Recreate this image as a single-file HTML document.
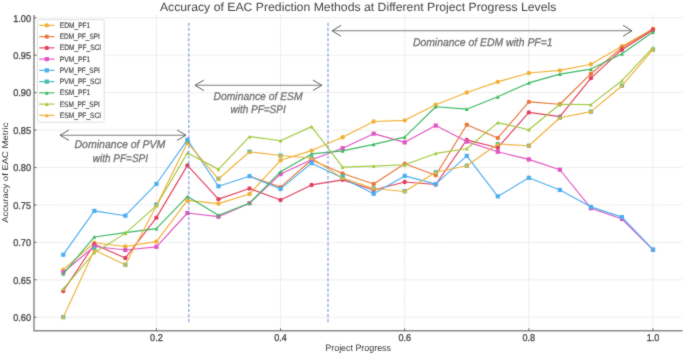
<!DOCTYPE html><html><head><meta charset="utf-8"><style>html,body{margin:0;padding:0;background:#fff;}svg{display:block;}</style></head><body>
<svg style="will-change:transform" width="685" height="357" viewBox="0 0 685 357" text-rendering="geometricPrecision">
<defs><filter id="bl" x="0" y="0" width="685" height="357" filterUnits="userSpaceOnUse" color-interpolation-filters="sRGB"><feConvolveMatrix order="3" kernelMatrix="1 2 1 2 20 2 1 2 1" divisor="32" edgeMode="duplicate"/></filter></defs><g filter="url(#bl)">
<rect width="685" height="357" fill="#fff"/>
<g stroke="#d6d6d6" stroke-width="0.9" stroke-dasharray="1,1.1"><line x1="156.40" y1="15.0" x2="156.40" y2="330.8"/><line x1="280.55" y1="15.0" x2="280.55" y2="330.8"/><line x1="404.70" y1="15.0" x2="404.70" y2="330.8"/><line x1="528.85" y1="15.0" x2="528.85" y2="330.8"/><line x1="653.00" y1="15.0" x2="653.00" y2="330.8"/><line x1="34.0" y1="317.20" x2="682.7" y2="317.20"/><line x1="34.0" y1="279.77" x2="682.7" y2="279.77"/><line x1="34.0" y1="242.35" x2="682.7" y2="242.35"/><line x1="34.0" y1="204.93" x2="682.7" y2="204.93"/><line x1="34.0" y1="167.50" x2="682.7" y2="167.50"/><line x1="34.0" y1="130.08" x2="682.7" y2="130.08"/><line x1="34.0" y1="92.65" x2="682.7" y2="92.65"/><line x1="34.0" y1="55.23" x2="682.7" y2="55.23"/><line x1="34.0" y1="17.80" x2="682.7" y2="17.80"/></g>
<polyline points="63.29,269.67 94.33,242.72 125.36,246.47 156.40,241.60 187.44,200.43 218.48,203.65 249.51,194.00 280.55,160.31 311.59,150.58 342.62,137.19 373.66,121.54 404.70,120.34 435.74,104.78 466.78,92.43 497.81,81.87 528.85,73.04 559.89,70.42 590.93,64.28 621.96,46.24 653.00,29.03" fill="none" stroke="#f2b134" stroke-width="1.15" stroke-linejoin="round"/>
<circle cx="63.29" cy="269.67" r="2.2" fill="#f2b134"/><circle cx="94.33" cy="242.72" r="2.2" fill="#f2b134"/><circle cx="125.36" cy="246.47" r="2.2" fill="#f2b134"/><circle cx="156.40" cy="241.60" r="2.2" fill="#f2b134"/><circle cx="187.44" cy="200.43" r="2.2" fill="#f2b134"/><circle cx="218.48" cy="203.65" r="2.2" fill="#f2b134"/><circle cx="249.51" cy="194.00" r="2.2" fill="#f2b134"/><circle cx="280.55" cy="160.31" r="2.2" fill="#f2b134"/><circle cx="311.59" cy="150.58" r="2.2" fill="#f2b134"/><circle cx="342.62" cy="137.19" r="2.2" fill="#f2b134"/><circle cx="373.66" cy="121.54" r="2.2" fill="#f2b134"/><circle cx="404.70" cy="120.34" r="2.2" fill="#f2b134"/><circle cx="435.74" cy="104.78" r="2.2" fill="#f2b134"/><circle cx="466.78" cy="92.43" r="2.2" fill="#f2b134"/><circle cx="497.81" cy="81.87" r="2.2" fill="#f2b134"/><circle cx="528.85" cy="73.04" r="2.2" fill="#f2b134"/><circle cx="559.89" cy="70.42" r="2.2" fill="#f2b134"/><circle cx="590.93" cy="64.28" r="2.2" fill="#f2b134"/><circle cx="621.96" cy="46.24" r="2.2" fill="#f2b134"/><circle cx="653.00" cy="29.03" r="2.2" fill="#f2b134"/>
<polyline points="249.51,176.18 280.55,187.11 311.59,160.01 342.62,173.49 373.66,183.97 404.70,163.76 435.74,175.28 466.78,124.76 497.81,137.93 528.85,101.86 559.89,104.25 590.93,73.71 621.96,47.74 653.00,29.03" fill="none" stroke="#e8773a" stroke-width="1.15" stroke-linejoin="round"/>
<circle cx="280.55" cy="187.11" r="2.2" fill="#e8773a"/><circle cx="311.59" cy="160.01" r="2.2" fill="#e8773a"/><circle cx="342.62" cy="173.49" r="2.2" fill="#e8773a"/><circle cx="373.66" cy="183.97" r="2.2" fill="#e8773a"/><circle cx="404.70" cy="163.76" r="2.2" fill="#e8773a"/><circle cx="435.74" cy="175.28" r="2.2" fill="#e8773a"/><circle cx="466.78" cy="124.76" r="2.2" fill="#e8773a"/><circle cx="497.81" cy="137.93" r="2.2" fill="#e8773a"/><circle cx="528.85" cy="101.86" r="2.2" fill="#e8773a"/><circle cx="559.89" cy="104.25" r="2.2" fill="#e8773a"/><circle cx="590.93" cy="73.71" r="2.2" fill="#e8773a"/><circle cx="621.96" cy="47.74" r="2.2" fill="#e8773a"/><circle cx="653.00" cy="29.03" r="2.2" fill="#e8773a"/>
<polyline points="63.29,291.00 94.33,244.30 125.36,258.07 156.40,217.65 187.44,165.40 218.48,199.16 249.51,188.46 280.55,199.98 311.59,184.94 342.62,179.85 373.66,189.95 404.70,182.02 435.74,184.49 466.78,139.88 497.81,147.74 528.85,112.41 559.89,116.68 590.93,78.13 621.96,49.69 653.00,29.93" fill="none" stroke="#e2415e" stroke-width="1.15" stroke-linejoin="round"/>
<circle cx="63.29" cy="291.00" r="2.2" fill="#e2415e"/><circle cx="94.33" cy="244.30" r="2.2" fill="#e2415e"/><circle cx="125.36" cy="258.07" r="2.2" fill="#e2415e"/><circle cx="156.40" cy="217.65" r="2.2" fill="#e2415e"/><circle cx="187.44" cy="165.40" r="2.2" fill="#e2415e"/><circle cx="218.48" cy="199.16" r="2.2" fill="#e2415e"/><circle cx="249.51" cy="188.46" r="2.2" fill="#e2415e"/><circle cx="280.55" cy="199.98" r="2.2" fill="#e2415e"/><circle cx="311.59" cy="184.94" r="2.2" fill="#e2415e"/><circle cx="342.62" cy="179.85" r="2.2" fill="#e2415e"/><circle cx="373.66" cy="189.95" r="2.2" fill="#e2415e"/><circle cx="404.70" cy="182.02" r="2.2" fill="#e2415e"/><circle cx="435.74" cy="184.49" r="2.2" fill="#e2415e"/><circle cx="466.78" cy="139.88" r="2.2" fill="#e2415e"/><circle cx="497.81" cy="147.74" r="2.2" fill="#e2415e"/><circle cx="528.85" cy="112.41" r="2.2" fill="#e2415e"/><circle cx="559.89" cy="116.68" r="2.2" fill="#e2415e"/><circle cx="590.93" cy="78.13" r="2.2" fill="#e2415e"/><circle cx="621.96" cy="49.69" r="2.2" fill="#e2415e"/><circle cx="653.00" cy="29.93" r="2.2" fill="#e2415e"/>
<polyline points="63.29,272.29 94.33,246.47 125.36,249.98 156.40,246.84 187.44,213.01 218.48,216.68 249.51,203.20 280.55,174.09 311.59,159.72 342.62,148.19 373.66,133.67 404.70,142.35 435.74,125.58 466.78,141.60 497.81,151.78 528.85,159.42 559.89,169.75 590.93,208.22 621.96,219.00 653.00,249.84" fill="none" stroke="#e056c2" stroke-width="1.15" stroke-linejoin="round"/>
<rect x="61.19" y="270.19" width="4.2" height="4.2" fill="#e056c2"/><rect x="92.23" y="244.37" width="4.2" height="4.2" fill="#e056c2"/><rect x="123.26" y="247.88" width="4.2" height="4.2" fill="#e056c2"/><rect x="154.30" y="244.74" width="4.2" height="4.2" fill="#e056c2"/><rect x="185.34" y="210.91" width="4.2" height="4.2" fill="#e056c2"/><rect x="216.38" y="214.58" width="4.2" height="4.2" fill="#e056c2"/><rect x="247.41" y="201.10" width="4.2" height="4.2" fill="#e056c2"/><rect x="278.45" y="171.99" width="4.2" height="4.2" fill="#e056c2"/><rect x="309.49" y="157.62" width="4.2" height="4.2" fill="#e056c2"/><rect x="340.52" y="146.09" width="4.2" height="4.2" fill="#e056c2"/><rect x="371.56" y="131.57" width="4.2" height="4.2" fill="#e056c2"/><rect x="402.60" y="140.25" width="4.2" height="4.2" fill="#e056c2"/><rect x="433.64" y="123.48" width="4.2" height="4.2" fill="#e056c2"/><rect x="464.68" y="139.50" width="4.2" height="4.2" fill="#e056c2"/><rect x="495.71" y="149.68" width="4.2" height="4.2" fill="#e056c2"/><rect x="526.75" y="157.32" width="4.2" height="4.2" fill="#e056c2"/><rect x="557.79" y="167.65" width="4.2" height="4.2" fill="#e056c2"/><rect x="588.83" y="206.12" width="4.2" height="4.2" fill="#e056c2"/><rect x="619.86" y="216.90" width="4.2" height="4.2" fill="#e056c2"/><rect x="650.90" y="247.74" width="4.2" height="4.2" fill="#e056c2"/>
<polyline points="63.29,254.70 94.33,210.91 125.36,215.70 156.40,183.97 187.44,139.81 218.48,186.21 249.51,176.18 280.55,188.91 311.59,163.16 342.62,177.98 373.66,193.77 404.70,175.88 435.74,184.12 466.78,155.90 497.81,196.39 528.85,177.83 559.89,189.95 590.93,206.87 621.96,217.13 653.00,249.61" fill="none" stroke="#4daef0" stroke-width="1.15" stroke-linejoin="round"/>
<rect x="61.19" y="252.60" width="4.2" height="4.2" fill="#4daef0"/><rect x="92.23" y="208.81" width="4.2" height="4.2" fill="#4daef0"/><rect x="123.26" y="213.60" width="4.2" height="4.2" fill="#4daef0"/><rect x="154.30" y="181.87" width="4.2" height="4.2" fill="#4daef0"/><rect x="185.34" y="137.71" width="4.2" height="4.2" fill="#4daef0"/><rect x="216.38" y="184.11" width="4.2" height="4.2" fill="#4daef0"/><rect x="247.41" y="174.08" width="4.2" height="4.2" fill="#4daef0"/><rect x="278.45" y="186.81" width="4.2" height="4.2" fill="#4daef0"/><rect x="309.49" y="161.06" width="4.2" height="4.2" fill="#4daef0"/><rect x="340.52" y="175.88" width="4.2" height="4.2" fill="#4daef0"/><rect x="371.56" y="191.67" width="4.2" height="4.2" fill="#4daef0"/><rect x="402.60" y="173.78" width="4.2" height="4.2" fill="#4daef0"/><rect x="433.64" y="182.02" width="4.2" height="4.2" fill="#4daef0"/><rect x="464.68" y="153.80" width="4.2" height="4.2" fill="#4daef0"/><rect x="495.71" y="194.29" width="4.2" height="4.2" fill="#4daef0"/><rect x="526.75" y="175.73" width="4.2" height="4.2" fill="#4daef0"/><rect x="557.79" y="187.85" width="4.2" height="4.2" fill="#4daef0"/><rect x="588.83" y="204.77" width="4.2" height="4.2" fill="#4daef0"/><rect x="619.86" y="215.03" width="4.2" height="4.2" fill="#4daef0"/><rect x="650.90" y="247.51" width="4.2" height="4.2" fill="#4daef0"/>
<path d="" fill="none" stroke="#41bdb0" stroke-width="1.15" stroke-linejoin="round"/>
<rect x="61.19" y="315.10" width="4.2" height="4.2" fill="#41bdb0"/><rect x="92.23" y="246.61" width="4.2" height="4.2" fill="#41bdb0"/><rect x="123.26" y="262.70" width="4.2" height="4.2" fill="#41bdb0"/><rect x="154.30" y="202.53" width="4.2" height="4.2" fill="#41bdb0"/><rect x="185.34" y="140.10" width="4.2" height="4.2" fill="#41bdb0"/><rect x="216.38" y="176.63" width="4.2" height="4.2" fill="#41bdb0"/><rect x="247.41" y="149.61" width="4.2" height="4.2" fill="#41bdb0"/><rect x="278.45" y="153.42" width="4.2" height="4.2" fill="#41bdb0"/><rect x="309.49" y="156.04" width="4.2" height="4.2" fill="#41bdb0"/><rect x="340.52" y="174.08" width="4.2" height="4.2" fill="#41bdb0"/><rect x="371.56" y="186.36" width="4.2" height="4.2" fill="#41bdb0"/><rect x="402.60" y="189.05" width="4.2" height="4.2" fill="#41bdb0"/><rect x="433.64" y="170.19" width="4.2" height="4.2" fill="#41bdb0"/><rect x="464.68" y="163.60" width="4.2" height="4.2" fill="#41bdb0"/><rect x="495.71" y="141.90" width="4.2" height="4.2" fill="#41bdb0"/><rect x="526.75" y="143.62" width="4.2" height="4.2" fill="#41bdb0"/><rect x="557.79" y="115.70" width="4.2" height="4.2" fill="#41bdb0"/><rect x="588.83" y="109.56" width="4.2" height="4.2" fill="#41bdb0"/><rect x="619.86" y="83.59" width="4.2" height="4.2" fill="#41bdb0"/><rect x="650.90" y="47.51" width="4.2" height="4.2" fill="#41bdb0"/>
<polyline points="63.29,273.79 94.33,236.96 125.36,232.62 156.40,228.58 187.44,196.39 218.48,215.33 249.51,203.20 280.55,171.69 311.59,153.88 342.62,150.88 373.66,144.37 404.70,137.11 435.74,106.72 466.78,109.19 497.81,96.77 528.85,82.92 559.89,74.09 590.93,69.07 621.96,53.73 653.00,32.02" fill="none" stroke="#3db861" stroke-width="1.15" stroke-linejoin="round"/>
<path d="M63.29,271.89L65.19,275.69L61.39,275.69Z" fill="#3db861"/><path d="M94.33,235.06L96.23,238.86L92.42,238.86Z" fill="#3db861"/><path d="M125.36,230.72L127.26,234.52L123.46,234.52Z" fill="#3db861"/><path d="M156.40,226.68L158.30,230.48L154.50,230.48Z" fill="#3db861"/><path d="M187.44,194.49L189.34,198.29L185.54,198.29Z" fill="#3db861"/><path d="M218.48,213.43L220.38,217.23L216.58,217.23Z" fill="#3db861"/><path d="M249.51,201.30L251.41,205.10L247.61,205.10Z" fill="#3db861"/><path d="M280.55,169.79L282.45,173.59L278.65,173.59Z" fill="#3db861"/><path d="M311.59,151.98L313.49,155.78L309.69,155.78Z" fill="#3db861"/><path d="M342.62,148.98L344.52,152.78L340.73,152.78Z" fill="#3db861"/><path d="M373.66,142.47L375.56,146.27L371.76,146.27Z" fill="#3db861"/><path d="M404.70,135.21L406.60,139.01L402.80,139.01Z" fill="#3db861"/><path d="M435.74,104.82L437.64,108.62L433.84,108.62Z" fill="#3db861"/><path d="M466.78,107.29L468.68,111.09L464.88,111.09Z" fill="#3db861"/><path d="M497.81,94.87L499.71,98.67L495.91,98.67Z" fill="#3db861"/><path d="M528.85,81.02L530.75,84.82L526.95,84.82Z" fill="#3db861"/><path d="M559.89,72.19L561.79,75.99L557.99,75.99Z" fill="#3db861"/><path d="M590.93,67.17L592.83,70.97L589.03,70.97Z" fill="#3db861"/><path d="M621.96,51.83L623.86,55.63L620.06,55.63Z" fill="#3db861"/><path d="M653.00,30.12L654.90,33.92L651.10,33.92Z" fill="#3db861"/>
<polyline points="63.29,288.98 94.33,252.68 125.36,233.37 156.40,205.67 187.44,152.90 218.48,169.37 249.51,136.59 280.55,140.70 311.59,126.63 342.62,167.13 373.66,166.08 404.70,164.73 435.74,153.43 466.78,148.71 497.81,122.59 528.85,129.70 559.89,104.25 590.93,104.63 621.96,80.67 653.00,47.74" fill="none" stroke="#a2c940" stroke-width="1.15" stroke-linejoin="round"/>
<path d="M63.29,287.08L65.19,290.88L61.39,290.88Z" fill="#a2c940"/><path d="M94.33,250.78L96.23,254.58L92.42,254.58Z" fill="#a2c940"/><path d="M125.36,231.47L127.26,235.27L123.46,235.27Z" fill="#a2c940"/><path d="M156.40,203.77L158.30,207.57L154.50,207.57Z" fill="#a2c940"/><path d="M187.44,151.00L189.34,154.80L185.54,154.80Z" fill="#a2c940"/><path d="M218.48,167.47L220.38,171.27L216.58,171.27Z" fill="#a2c940"/><path d="M249.51,134.69L251.41,138.49L247.61,138.49Z" fill="#a2c940"/><path d="M280.55,138.80L282.45,142.60L278.65,142.60Z" fill="#a2c940"/><path d="M311.59,124.73L313.49,128.53L309.69,128.53Z" fill="#a2c940"/><path d="M342.62,165.23L344.52,169.03L340.73,169.03Z" fill="#a2c940"/><path d="M373.66,164.18L375.56,167.98L371.76,167.98Z" fill="#a2c940"/><path d="M404.70,162.83L406.60,166.63L402.80,166.63Z" fill="#a2c940"/><path d="M435.74,151.53L437.64,155.33L433.84,155.33Z" fill="#a2c940"/><path d="M466.78,146.81L468.68,150.61L464.88,150.61Z" fill="#a2c940"/><path d="M497.81,120.69L499.71,124.49L495.91,124.49Z" fill="#a2c940"/><path d="M528.85,127.80L530.75,131.60L526.95,131.60Z" fill="#a2c940"/><path d="M559.89,102.35L561.79,106.15L557.99,106.15Z" fill="#a2c940"/><path d="M590.93,102.73L592.83,106.53L589.03,106.53Z" fill="#a2c940"/><path d="M621.96,78.77L623.86,82.57L620.06,82.57Z" fill="#a2c940"/><path d="M653.00,45.84L654.90,49.64L651.10,49.64Z" fill="#a2c940"/>
<polyline points="63.29,317.20 94.33,250.06 125.36,264.80 156.40,205.67 187.44,142.72 218.48,179.03 249.51,151.78 280.55,155.52 311.59,157.99 342.62,178.13 373.66,188.46 404.70,191.45 435.74,172.29 466.78,165.70 497.81,144.00 528.85,145.72 559.89,117.80 590.93,111.66 621.96,85.69 653.00,49.61" fill="none" stroke="#f0b03a" stroke-width="1.15" stroke-linejoin="round"/>
<path d="M63.29,315.30L65.19,319.10L61.39,319.10Z" fill="#f0b03a"/><path d="M94.33,248.16L96.23,251.96L92.42,251.96Z" fill="#f0b03a"/><path d="M125.36,262.90L127.26,266.70L123.46,266.70Z" fill="#f0b03a"/><path d="M156.40,203.77L158.30,207.57L154.50,207.57Z" fill="#f0b03a"/><path d="M187.44,140.82L189.34,144.62L185.54,144.62Z" fill="#f0b03a"/><path d="M218.48,177.13L220.38,180.93L216.58,180.93Z" fill="#f0b03a"/><path d="M249.51,149.88L251.41,153.68L247.61,153.68Z" fill="#f0b03a"/><path d="M280.55,153.62L282.45,157.42L278.65,157.42Z" fill="#f0b03a"/><path d="M311.59,156.09L313.49,159.89L309.69,159.89Z" fill="#f0b03a"/><path d="M342.62,176.23L344.52,180.03L340.73,180.03Z" fill="#f0b03a"/><path d="M373.66,186.56L375.56,190.36L371.76,190.36Z" fill="#f0b03a"/><path d="M404.70,189.55L406.60,193.35L402.80,193.35Z" fill="#f0b03a"/><path d="M435.74,170.39L437.64,174.19L433.84,174.19Z" fill="#f0b03a"/><path d="M466.78,163.80L468.68,167.60L464.88,167.60Z" fill="#f0b03a"/><path d="M497.81,142.10L499.71,145.90L495.91,145.90Z" fill="#f0b03a"/><path d="M528.85,143.82L530.75,147.62L526.95,147.62Z" fill="#f0b03a"/><path d="M559.89,115.90L561.79,119.70L557.99,119.70Z" fill="#f0b03a"/><path d="M590.93,109.76L592.83,113.56L589.03,113.56Z" fill="#f0b03a"/><path d="M621.96,83.79L623.86,87.59L620.06,87.59Z" fill="#f0b03a"/><path d="M653.00,47.71L654.90,51.51L651.10,51.51Z" fill="#f0b03a"/>
<line x1="188.8" y1="322.3" x2="188.8" y2="22.8" stroke="#5f7fd0" stroke-opacity="0.7" stroke-width="1.3" stroke-dasharray="3.2,1.91"/>
<line x1="328.0" y1="322.3" x2="328.0" y2="22.8" stroke="#5f7fd0" stroke-opacity="0.7" stroke-width="1.3" stroke-dasharray="3.2,1.91"/>
<path d="M34.0,15.0V330.8H682.7" fill="none" stroke="#8a8a8a" stroke-width="1.5"/>
<g stroke="#555" stroke-width="0.9"><line x1="156.40" y1="330.8" x2="156.40" y2="328.3"/><line x1="280.55" y1="330.8" x2="280.55" y2="328.3"/><line x1="404.70" y1="330.8" x2="404.70" y2="328.3"/><line x1="528.85" y1="330.8" x2="528.85" y2="328.3"/><line x1="653.00" y1="330.8" x2="653.00" y2="328.3"/><line x1="34.0" y1="317.20" x2="36.5" y2="317.20"/><line x1="34.0" y1="279.77" x2="36.5" y2="279.77"/><line x1="34.0" y1="242.35" x2="36.5" y2="242.35"/><line x1="34.0" y1="204.93" x2="36.5" y2="204.93"/><line x1="34.0" y1="167.50" x2="36.5" y2="167.50"/><line x1="34.0" y1="130.08" x2="36.5" y2="130.08"/><line x1="34.0" y1="92.65" x2="36.5" y2="92.65"/><line x1="34.0" y1="55.23" x2="36.5" y2="55.23"/><line x1="34.0" y1="17.80" x2="36.5" y2="17.80"/></g>
<text x="156.40" y="340.6" font-family="Liberation Sans, sans-serif" font-size="9.9" fill="#444" stroke="#444" stroke-width="0.3" text-anchor="middle" textLength="12.6" lengthAdjust="spacingAndGlyphs">0.2</text>
<text x="280.55" y="340.6" font-family="Liberation Sans, sans-serif" font-size="9.9" fill="#444" stroke="#444" stroke-width="0.3" text-anchor="middle" textLength="12.6" lengthAdjust="spacingAndGlyphs">0.4</text>
<text x="404.70" y="340.6" font-family="Liberation Sans, sans-serif" font-size="9.9" fill="#444" stroke="#444" stroke-width="0.3" text-anchor="middle" textLength="12.6" lengthAdjust="spacingAndGlyphs">0.6</text>
<text x="528.85" y="340.6" font-family="Liberation Sans, sans-serif" font-size="9.9" fill="#444" stroke="#444" stroke-width="0.3" text-anchor="middle" textLength="12.6" lengthAdjust="spacingAndGlyphs">0.8</text>
<text x="653.00" y="340.6" font-family="Liberation Sans, sans-serif" font-size="9.9" fill="#444" stroke="#444" stroke-width="0.3" text-anchor="middle" textLength="12.6" lengthAdjust="spacingAndGlyphs">1.0</text>
<text x="31.1" y="320.95" font-family="Liberation Sans, sans-serif" font-size="9.9" fill="#444" stroke="#444" stroke-width="0.3" text-anchor="end" textLength="17.9" lengthAdjust="spacingAndGlyphs">0.60</text>
<text x="31.1" y="283.52" font-family="Liberation Sans, sans-serif" font-size="9.9" fill="#444" stroke="#444" stroke-width="0.3" text-anchor="end" textLength="17.9" lengthAdjust="spacingAndGlyphs">0.65</text>
<text x="31.1" y="246.10" font-family="Liberation Sans, sans-serif" font-size="9.9" fill="#444" stroke="#444" stroke-width="0.3" text-anchor="end" textLength="17.9" lengthAdjust="spacingAndGlyphs">0.70</text>
<text x="31.1" y="208.68" font-family="Liberation Sans, sans-serif" font-size="9.9" fill="#444" stroke="#444" stroke-width="0.3" text-anchor="end" textLength="17.9" lengthAdjust="spacingAndGlyphs">0.75</text>
<text x="31.1" y="171.25" font-family="Liberation Sans, sans-serif" font-size="9.9" fill="#444" stroke="#444" stroke-width="0.3" text-anchor="end" textLength="17.9" lengthAdjust="spacingAndGlyphs">0.80</text>
<text x="31.1" y="133.83" font-family="Liberation Sans, sans-serif" font-size="9.9" fill="#444" stroke="#444" stroke-width="0.3" text-anchor="end" textLength="17.9" lengthAdjust="spacingAndGlyphs">0.85</text>
<text x="31.1" y="96.40" font-family="Liberation Sans, sans-serif" font-size="9.9" fill="#444" stroke="#444" stroke-width="0.3" text-anchor="end" textLength="17.9" lengthAdjust="spacingAndGlyphs">0.90</text>
<text x="31.1" y="58.98" font-family="Liberation Sans, sans-serif" font-size="9.9" fill="#444" stroke="#444" stroke-width="0.3" text-anchor="end" textLength="17.9" lengthAdjust="spacingAndGlyphs">0.95</text>
<text x="31.1" y="21.55" font-family="Liberation Sans, sans-serif" font-size="9.9" fill="#444" stroke="#444" stroke-width="0.3" text-anchor="end" textLength="17.9" lengthAdjust="spacingAndGlyphs">1.00</text>
<text x="325.3" y="351.3" font-family="Liberation Sans, sans-serif" font-size="9.4" fill="#3a3a3a" textLength="65.7" lengthAdjust="spacingAndGlyphs">Project Progress</text>
<text transform="translate(8.4,222.8) rotate(-90)" x="0" y="0" font-family="Liberation Sans, sans-serif" font-size="8.3" fill="#333" textLength="100.2" lengthAdjust="spacingAndGlyphs">Accuracy of EAC Metric</text>
<text x="159.9" y="10.6" font-family="Liberation Sans, sans-serif" font-size="12.0" fill="#444" textLength="396.4" lengthAdjust="spacingAndGlyphs">Accuracy of EAC Prediction Methods at Different Project Progress Levels</text>
<rect x="37.5" y="19.6" width="66.7" height="102.6" rx="1.8" fill="#fff" fill-opacity="0.85" stroke="#dcdcdc" stroke-width="0.9"/>
<line x1="39.2" y1="25.40" x2="54.4" y2="25.40" stroke="#f2b134" stroke-width="1.15"/>
<circle cx="46.80" cy="25.40" r="2.2" fill="#f2b134"/>
<text x="59.8" y="28.00" font-family="Liberation Sans, sans-serif" font-size="7.9" fill="#4a4a4a" stroke="#4a4a4a" stroke-width="0.2" textLength="30.5" lengthAdjust="spacingAndGlyphs">EDM_PF1</text>
<line x1="39.2" y1="36.64" x2="54.4" y2="36.64" stroke="#e8773a" stroke-width="1.15"/>
<circle cx="46.80" cy="36.64" r="2.2" fill="#e8773a"/>
<text x="59.8" y="39.24" font-family="Liberation Sans, sans-serif" font-size="7.9" fill="#4a4a4a" stroke="#4a4a4a" stroke-width="0.2" textLength="40.0" lengthAdjust="spacingAndGlyphs">EDM_PF_SPI</text>
<line x1="39.2" y1="47.88" x2="54.4" y2="47.88" stroke="#e2415e" stroke-width="1.15"/>
<circle cx="46.80" cy="47.88" r="2.2" fill="#e2415e"/>
<text x="59.8" y="50.48" font-family="Liberation Sans, sans-serif" font-size="7.9" fill="#4a4a4a" stroke="#4a4a4a" stroke-width="0.2" textLength="41.4" lengthAdjust="spacingAndGlyphs">EDM_PF_SCI</text>
<line x1="39.2" y1="59.12" x2="54.4" y2="59.12" stroke="#e056c2" stroke-width="1.15"/>
<rect x="44.70" y="57.02" width="4.2" height="4.2" fill="#e056c2"/>
<text x="59.8" y="61.72" font-family="Liberation Sans, sans-serif" font-size="7.9" fill="#4a4a4a" stroke="#4a4a4a" stroke-width="0.2" textLength="30.5" lengthAdjust="spacingAndGlyphs">PVM_PF1</text>
<line x1="39.2" y1="70.36" x2="54.4" y2="70.36" stroke="#4daef0" stroke-width="1.15"/>
<rect x="44.70" y="68.26" width="4.2" height="4.2" fill="#4daef0"/>
<text x="59.8" y="72.96" font-family="Liberation Sans, sans-serif" font-size="7.9" fill="#4a4a4a" stroke="#4a4a4a" stroke-width="0.2" textLength="40.0" lengthAdjust="spacingAndGlyphs">PVM_PF_SPI</text>
<line x1="39.2" y1="81.60" x2="54.4" y2="81.60" stroke="#41bdb0" stroke-width="1.15"/>
<rect x="44.70" y="79.50" width="4.2" height="4.2" fill="#41bdb0"/>
<text x="59.8" y="84.20" font-family="Liberation Sans, sans-serif" font-size="7.9" fill="#4a4a4a" stroke="#4a4a4a" stroke-width="0.2" textLength="41.4" lengthAdjust="spacingAndGlyphs">PVM_PF_SCI</text>
<line x1="39.2" y1="92.84" x2="54.4" y2="92.84" stroke="#3db861" stroke-width="1.15"/>
<path d="M46.80,90.94L48.70,94.74L44.90,94.74Z" fill="#3db861"/>
<text x="59.8" y="95.44" font-family="Liberation Sans, sans-serif" font-size="7.9" fill="#4a4a4a" stroke="#4a4a4a" stroke-width="0.2" textLength="30.5" lengthAdjust="spacingAndGlyphs">ESM_PF1</text>
<line x1="39.2" y1="104.08" x2="54.4" y2="104.08" stroke="#a2c940" stroke-width="1.15"/>
<path d="M46.80,102.18L48.70,105.98L44.90,105.98Z" fill="#a2c940"/>
<text x="59.8" y="106.68" font-family="Liberation Sans, sans-serif" font-size="7.9" fill="#4a4a4a" stroke="#4a4a4a" stroke-width="0.2" textLength="40.0" lengthAdjust="spacingAndGlyphs">ESM_PF_SPI</text>
<line x1="39.2" y1="115.32" x2="54.4" y2="115.32" stroke="#f0b03a" stroke-width="1.15"/>
<path d="M46.80,113.42L48.70,117.22L44.90,117.22Z" fill="#f0b03a"/>
<text x="59.8" y="117.92" font-family="Liberation Sans, sans-serif" font-size="7.9" fill="#4a4a4a" stroke="#4a4a4a" stroke-width="0.2" textLength="41.4" lengthAdjust="spacingAndGlyphs">ESM_PF_SCI</text>
<line x1="60.0" y1="135.2" x2="186.0" y2="135.2" stroke="#7c7c7c" stroke-width="1.1"/><g stroke="#5e5e5e" stroke-width="1" fill="none"><polyline points="69.0,129.95 60.0,135.2 69.0,140.45"/><polyline points="177.0,129.95 186.0,135.2 177.0,140.45"/></g>
<line x1="194.9" y1="85.3" x2="321.9" y2="85.3" stroke="#7c7c7c" stroke-width="1.1"/><g stroke="#5e5e5e" stroke-width="1" fill="none"><polyline points="203.9,80.05 194.9,85.3 203.9,90.55"/><polyline points="312.9,80.05 321.9,85.3 312.9,90.55"/></g>
<line x1="332.1" y1="30.8" x2="632.0" y2="30.8" stroke="#7c7c7c" stroke-width="1.1"/><g stroke="#5e5e5e" stroke-width="1" fill="none"><polyline points="341.1,25.3 332.1,30.8 341.1,36.3"/><polyline points="623.0,25.3 632.0,30.8 623.0,36.3"/></g>
<text x="74.4" y="148.0" font-family="Liberation Sans, sans-serif" font-style="italic" fill="#707070" stroke="#707070" stroke-width="0.3" font-size="11.2" textLength="91.0" lengthAdjust="spacingAndGlyphs">Dominance of PVM</text>
<text x="92.8" y="162.3" font-family="Liberation Sans, sans-serif" font-style="italic" fill="#707070" stroke="#707070" stroke-width="0.3" font-size="11.2" textLength="55.2" lengthAdjust="spacingAndGlyphs">with PF=SPI</text>
<text x="213.5" y="99.6" font-family="Liberation Sans, sans-serif" font-style="italic" fill="#707070" stroke="#707070" stroke-width="0.3" font-size="11.2" textLength="89.1" lengthAdjust="spacingAndGlyphs">Dominance of ESM</text>
<text x="230.5" y="113.1" font-family="Liberation Sans, sans-serif" font-style="italic" fill="#707070" stroke="#707070" stroke-width="0.3" font-size="11.2" textLength="55.2" lengthAdjust="spacingAndGlyphs">with PF=SPI</text>
<text x="412.9" y="46.1" font-family="Liberation Sans, sans-serif" font-style="italic" fill="#707070" stroke="#707070" stroke-width="0.3" font-size="11.2" textLength="139.7" lengthAdjust="spacingAndGlyphs">Dominance of EDM with PF=1</text>
</g></svg></body></html>
